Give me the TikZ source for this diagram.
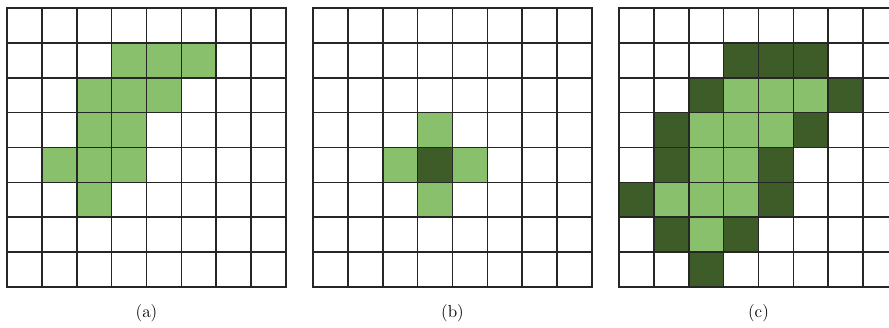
\documentclass[tikz,border=0pt]{standalone}
\usepackage{xcolor}
\definecolor{Leaf}{HTML}{88C06B}
\definecolor{Moss}{HTML}{3D5C27}
\definecolor{Ink}{HTML}{262626}
\usetikzlibrary{positioning}
\tikzset{
  lite/.style={fill=Leaf},
  dark/.style={fill=Moss},
  gridline/.style={draw=Ink,line width=1.3pt,line cap=rect},
  sublabel/.style={font=\fontsize{13}{15}\selectfont,inner sep=0pt}
}

\begin{document}
\begin{tikzpicture}[x=0.75pt,y=-0.75pt]
  \useasboundingbox (0,0) rectangle (889,328);
  \clip (0,0) rectangle (889,328);
  % (a) input region
  \begin{scope}[shift={(7,8)},x=26.156pt,y=-26.156pt]
    \foreach \c/\r in {3/1,4/1,5/1,2/2,3/2,4/2,2/3,3/3,1/4,2/4,3/4,2/5}
      \fill[lite] (\c,\r) rectangle ++(1,1);
    \foreach \i in {0,...,8} {
      \draw[gridline] (\i,0) -- (\i,8);
      \draw[gridline] (0,\i) -- (8,\i);
    }
  \end{scope}
  % (b) structuring element
  \begin{scope}[shift={(313,8)},x=26.156pt,y=-26.156pt]
    \foreach \c/\r in {3/3,2/4,4/4,3/5}
      \fill[lite] (\c,\r) rectangle ++(1,1);
    \fill[dark] (3,4) rectangle ++(1,1);
    \foreach \i in {0,...,8} {
      \draw[gridline] (\i,0) -- (\i,8);
      \draw[gridline] (0,\i) -- (8,\i);
    }
  \end{scope}
  % (c) dilated region
  \begin{scope}[shift={(619,8)},x=26.156pt,y=-26.156pt]
    \foreach \c/\r in {3/2,4/2,5/2,2/3,3/3,4/3,2/4,3/4,1/5,2/5,3/5,2/6}
      \fill[lite] (\c,\r) rectangle ++(1,1);
    \foreach \c/\r in {3/1,4/1,5/1,2/2,6/2,1/3,5/3,1/4,4/4,0/5,4/5,1/6,3/6,2/7}
      \fill[dark] (\c,\r) rectangle ++(1,1);
    \foreach \i in {0,...,8} {
      \draw[gridline] (\i,0) -- (\i,8);
      \draw[gridline] (0,\i) -- (8,\i);
    }
  \end{scope}
  \node[sublabel] (capa) at (146.5,313) {(a)};
  \node[sublabel] (capb) at (452.5,313) {(b)};
  \node[sublabel] (capc) at (758.5,313) {(c)};
\end{tikzpicture}
\end{document}
